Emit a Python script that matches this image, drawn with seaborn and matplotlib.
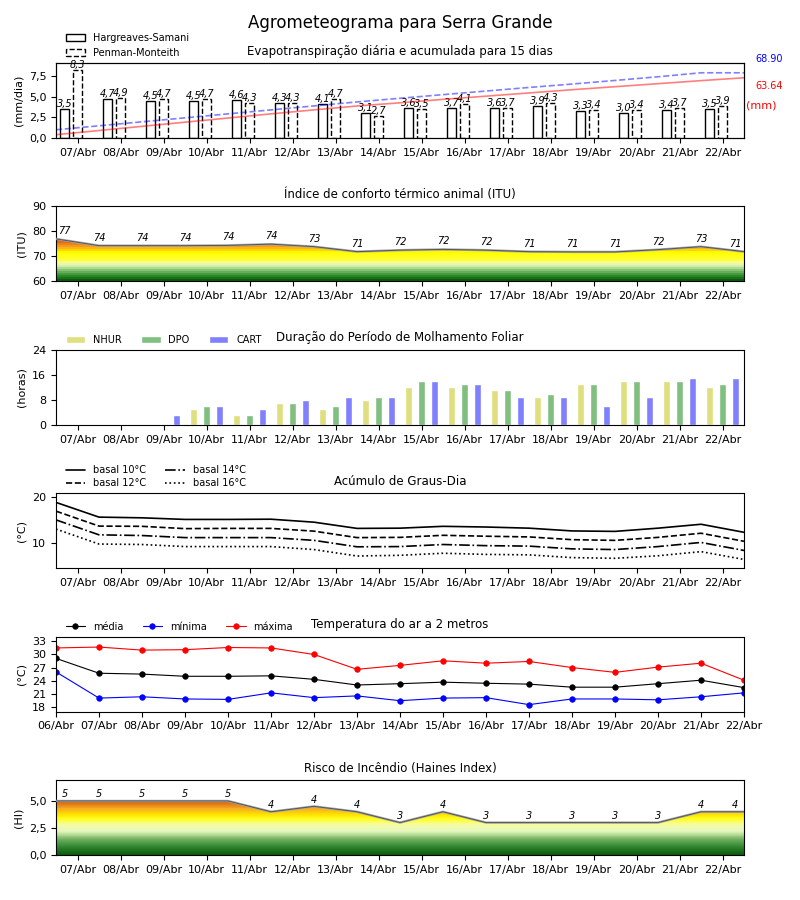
import numpy as np
import pandas as pd
import matplotlib
matplotlib.use('Agg')
import matplotlib.pyplot as plt
from matplotlib.colors import LinearSegmentedColormap
from matplotlib.patches import Patch
from matplotlib.ticker import FuncFormatter
import seaborn as sns

dias = ['07/Abr', '08/Abr', '09/Abr', '10/Abr', '11/Abr', '12/Abr', '13/Abr', '14/Abr',
        '15/Abr', '16/Abr', '17/Abr', '18/Abr', '19/Abr', '20/Abr', '21/Abr', '22/Abr']
dias_temp = ['06/Abr'] + dias

# evapotranspiracao diaria (mm/dia) e acumulada (mm)
et_hs = [3.5, 4.7, 4.5, 4.5, 4.6, 4.3, 4.1, 3.1, 3.6, 3.7, 3.6, 3.9, 3.3, 3.0, 3.4, 3.5]
et_pm = [8.3, 4.9, 4.7, 4.7, 4.3, 4.3, 4.7, 2.7, 3.5, 4.1, 3.7, 4.3, 3.4, 3.4, 3.7, 3.9]
acum_hs = [3.5, 7.9, 12.3, 16.7, 21.1, 25.5, 29.7, 33.8, 37.2, 40.8, 44.2, 47.6,
           51.0, 54.2, 57.4, 60.6, 63.64]
acum_pm = [8.7, 12.9, 17.1, 21.3, 25.5, 29.7, 33.9, 38.1, 42.0, 45.8, 49.6, 53.4,
           57.0, 60.8, 64.7, 68.9, 68.9]

# ITU
itu = [77.0, 74.3, 74.3, 74.3, 74.4, 74.9, 73.9, 71.9, 72.5, 72.8, 72.5, 71.9,
       71.8, 71.8, 72.7, 73.9, 71.9]

# molhamento foliar (horas)
nhur = [0, 0, 0, 5, 3, 7, 5, 8, 12, 12, 11, 9, 13, 14, 14, 12]
dpo = [0, 0, 0, 6, 3, 7, 6, 9, 14, 13, 11, 10, 13, 14, 14, 13]
cart = [0, 0, 3, 6, 5, 8, 9, 9, 14, 13, 9, 9, 6, 9, 15, 15]

# graus-dia
gd10 = [18.9, 15.7, 15.55, 15.2, 15.2, 15.25, 14.6, 13.25, 13.3, 13.7, 13.55, 13.3,
        12.7, 12.6, 13.3, 14.15, 12.4]
gd12 = [17.0, 13.75, 13.7, 13.2, 13.25, 13.25, 12.65, 11.25, 11.3, 11.75, 11.55, 11.4,
        10.8, 10.65, 11.3, 12.2, 10.45]
gd14 = [15.1, 11.85, 11.7, 11.25, 11.25, 11.25, 10.65, 9.25, 9.3, 9.75, 9.5, 9.4,
        8.8, 8.65, 9.3, 10.2, 8.45]
gd16 = [13.1, 9.85, 9.75, 9.3, 9.3, 9.3, 8.65, 7.25, 7.4, 7.85, 7.6, 7.5,
        6.9, 6.75, 7.3, 8.2, 6.5]

# temperatura do ar (°C)
t_med = [29.1, 25.7, 25.5, 25.0, 25.0, 25.1, 24.3, 23.0, 23.3, 23.65, 23.4, 23.2,
         22.5, 22.5, 23.3, 24.1, 22.4]
t_min = [26.0, 20.0, 20.3, 19.8, 19.7, 21.2, 20.1, 20.5, 19.4, 20.0, 20.1, 18.5,
         19.8, 19.8, 19.6, 20.3, 21.2]
t_max = [31.5, 31.7, 31.0, 31.1, 31.6, 31.5, 30.0, 26.6, 27.5, 28.55, 28.0, 28.4,
         27.0, 25.9, 27.1, 28.0, 24.1]

# Haines
haines = [5, 5, 5, 5, 5, 4, 4.5, 4, 3, 4, 3, 3, 3, 3, 3, 4, 4]

sns.set_style('ticks', rc={'axes.edgecolor': 'black', 'text.color': 'black',
                           'xtick.color': 'black', 'ytick.color': 'black',
                           'axes.labelcolor': 'black', 'axes.linewidth': 1.0})
plt.rcParams['font.family'] = ['DejaVu Sans']
plt.rcParams['xtick.labelsize'] = 8
plt.rcParams['ytick.labelsize'] = 8

cmap_itu = LinearSegmentedColormap.from_list('itu', [
    (0.00, '#0a5a0a'), (0.10, '#2a8a2a'), (0.20, '#6fb45f'), (0.28, '#a8d890'),
    (0.35, '#e2f5b8'), (0.42, '#f6fc9a'), (0.48, '#ffff30'), (0.66, '#ffff00'),
    (0.72, '#ffd000'), (0.80, '#f5a020'), (0.88, '#e8781a'), (0.95, '#d85010'),
    (1.00, '#c83000')])
cmap_hi = LinearSegmentedColormap.from_list('haines', [
    (0.00, '#0a5a0a'), (0.17, '#3a8f3a'), (0.27, '#70b060'), (0.35, '#b0d890'),
    (0.42, '#e6f8c0'), (0.54, '#f6fca0'), (0.63, '#ffff20'), (0.71, '#ffe600'),
    (0.83, '#f5a523'), (0.92, '#dc6e14'), (1.00, '#c85a0a')])

virgula = FuncFormatter(lambda v, p: f'{v:.1f}'.replace('.', ','))

xd = np.arange(len(dias))
xh = np.arange(len(dias) + 1) - 0.5
xt = np.arange(len(dias_temp))

fig, axs = plt.subplots(6, 1, figsize=(8, 9), dpi=100)
fig.subplots_adjust(left=0.07, right=0.93, top=0.93, bottom=0.05, hspace=0.912)
fig.suptitle('Agrometeograma para Serra Grande', fontsize=12, y=0.985)

leg_kw = dict(loc='lower left', bbox_to_anchor=(0.007, 1), frameon=False, fontsize=7,
              borderaxespad=0.1)


def eixo_dias(ax):
    ax.set_xticks(xd)
    ax.set_xticklabels(dias)
    ax.set_xlim(-0.5, 15.5)
    ax.set_xlabel('')


def gradiente(ax, y, topo, base, cmap, niveis):
    poly = ax.fill_between(xh, base, y, facecolor='none', edgecolor='none')
    grad = np.linspace(0, 1, niveis).reshape(-1, 1)
    im = ax.imshow(grad, cmap=cmap, aspect='auto', origin='lower', interpolation='nearest',
                   extent=[xh[0], xh[-1], base, topo], zorder=1)
    im.set_clip_path(poly.get_paths()[0], transform=ax.transData)
    sns.lineplot(x=xh, y=y, color='#a8a8a8', lw=1.7, ax=ax, zorder=3)
    sns.lineplot(x=xh, y=y, color='#555555', lw=0.7, ax=ax, zorder=4)


# 1 - evapotranspiracao
ax = axs[0]
sns.barplot(x=xd - 0.3, y=et_hs, native_scale=True, orient='x', width=0.22, color='white',
            saturation=1, edgecolor='black', linewidth=1, ax=ax, zorder=2)
sns.barplot(x=xd, y=et_pm, native_scale=True, orient='x', width=0.22, color='white',
            saturation=1, edgecolor='black', linewidth=1, linestyle='--', ax=ax, zorder=2)
for i in xd:
    ax.text(i - 0.3, et_hs[i], f'{et_hs[i]:.1f}'.replace('.', ','), ha='center',
            va='bottom', fontsize=7, style='italic')
    ax.text(i, et_pm[i], f'{et_pm[i]:.1f}'.replace('.', ','), ha='center',
            va='bottom', fontsize=7, style='italic')
eixo_dias(ax)
ax.set_ylim(0, max(et_pm) * 1.1)
ax.set_yticks([0, 2.5, 5, 7.5])
ax.yaxis.set_major_formatter(virgula)
ax.set_ylabel('(mm/dia)', fontsize=8)
ax.set_title('Evapotranspiração diária e acumulada para 15 dias', fontsize=8.5)
ax.legend(handles=[Patch(facecolor='white', edgecolor='black', label='Hargreaves-Samani'),
                   Patch(facecolor='white', edgecolor='black', linestyle='--',
                         label='Penman-Monteith')],
          labelspacing=0.55, **leg_kw)
ax2 = ax.twinx()
sns.lineplot(x=xh, y=acum_hs, color='red', alpha=0.5, lw=1.2, ax=ax2)
sns.lineplot(x=xh, y=acum_pm, color='blue', alpha=0.5, lw=1.2, linestyle='--', ax=ax2)
ax2.set_ylim(0, max(acum_pm) * 1.15)
ax2.set_yticks([])
ax2.set_ylabel('')
ax2.set_xlim(-0.5, 15.5)
ax.text(1.016, 1.053, f'{acum_pm[-1]:.2f}', transform=ax.transAxes, color='blue',
        fontsize=7, va='center')
ax.text(1.016, 0.693, f'{acum_hs[-1]:.2f}', transform=ax.transAxes, color='red',
        fontsize=7, va='center')
ax.text(1.003, 0.44, '(mm)', transform=ax.transAxes, color='red', fontsize=8, va='center')

# 2 - ITU
ax = axs[1]
gradiente(ax, itu, 77.5, 60, cmap_itu, 22)
for x, v in zip(xh, itu):
    ax.text(np.clip(x, -0.3, 15.3), v + 1.2, str(int(v)), ha='center', va='bottom',
            fontsize=7, style='italic')
eixo_dias(ax)
ax.set_ylim(60, 90)
ax.set_yticks([60, 70, 80, 90])
ax.set_ylabel('(ITU)', fontsize=8)
ax.set_title('Índice de conforto térmico animal (ITU)', fontsize=8.5)

# 3 - molhamento foliar
ax = axs[2]
molh = pd.DataFrame({'dia': dias * 3, 'horas': nhur + dpo + cart,
                     'indice': ['NHUR'] * 16 + ['DPO'] * 16 + ['CART'] * 16})
sns.barplot(data=molh, x='dia', y='horas', hue='indice', order=dias,
            palette=['#dfdf80', '#80bf80', '#8080ff'], saturation=1, width=0.9, gap=0.45,
            errorbar=None, ax=ax)
sns.move_legend(ax, ncol=3, title=None, **leg_kw)
eixo_dias(ax)
ax.set_ylim(0, 24)
ax.set_yticks([0, 8, 16, 24])
ax.set_ylabel('(horas)', fontsize=8)
ax.set_title('Duração do Período de Molhamento Foliar', fontsize=8.5)

# 4 - graus-dia
ax = axs[3]
for serie, ls, nome in [(gd10, '-', 'basal 10°C'), (gd12, '--', 'basal 12°C'),
                        (gd14, '-.', 'basal 14°C'), (gd16, ':', 'basal 16°C')]:
    sns.lineplot(x=xh, y=serie, color='black', lw=1.2, linestyle=ls, label=nome, ax=ax)
ax.legend(ncol=2, labelspacing=0.3, **leg_kw)
eixo_dias(ax)
ax.set_ylim(min(gd16) - 1.9, max(gd10) + 2)
ax.set_yticks([10, 20])
ax.set_ylabel('(°C)', fontsize=8)
ax.set_title('Acúmulo de Graus-Dia', fontsize=8.5)

# 5 - temperatura
ax = axs[4]
for serie, cor, nome in [(t_med, 'black', 'média'), (t_min, 'blue', 'mínima'),
                         (t_max, 'red', 'máxima')]:
    sns.lineplot(x=xt, y=serie, color=cor, lw=0.8, marker='o', markersize=4,
                 markeredgecolor=cor, markeredgewidth=0.5, label=nome, ax=ax)
ax.legend(ncol=3, **leg_kw)
ax.set_xticks(xt)
ax.set_xticklabels(dias_temp)
ax.set_xlim(0, 16)
ax.set_ylim(min(t_min) - 1.6, max(t_max) + 2.4)
ax.set_yticks([18, 21, 24, 27, 30, 33])
ax.set_ylabel('(°C)', fontsize=8)
ax.set_title('Temperatura do ar a 2 metros', fontsize=8.5)

# 6 - Haines
ax = axs[5]
gradiente(ax, haines, 5.2, 0, cmap_hi, 120)
for x, v in zip(xh, haines):
    ax.text(np.clip(x, -0.3, 15.3), v + 0.15, str(int(v)), ha='center', va='bottom',
            fontsize=7, style='italic')
eixo_dias(ax)
ax.set_ylim(0, 6.94)
ax.set_yticks([0, 2.5, 5])
ax.yaxis.set_major_formatter(virgula)
ax.set_ylabel('(HI)', fontsize=8)
ax.set_title('Risco de Incêndio (Haines Index)', fontsize=8.5)

fig.savefig('out.png', dpi=100)
